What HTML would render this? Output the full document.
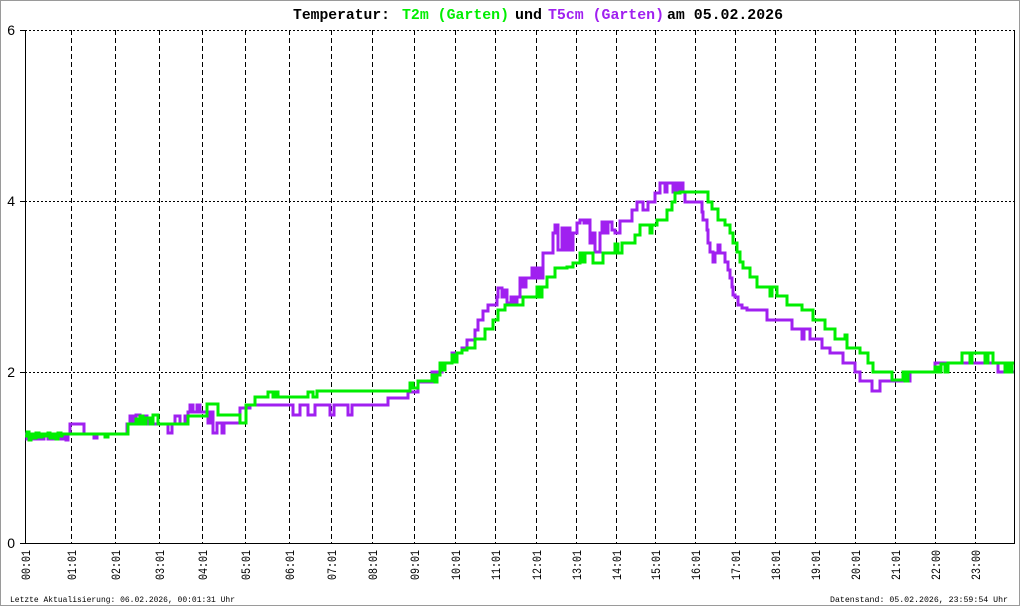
<!DOCTYPE html>
<html>
<head>
<meta charset="utf-8">
<style>
html,body{margin:0;padding:0;background:#fff;}
body{width:1020px;height:606px;overflow:hidden;}
svg{display:block;}
</style>
</head>
<body>
<svg width="1020" height="606" viewBox="0 0 1020 606" xmlns="http://www.w3.org/2000/svg">
<rect x="0.5" y="0.5" width="1019" height="605" fill="#fff" stroke="#9a9a9a" stroke-width="1"/>

<!-- Title -->
<g font-family="Liberation Mono, monospace" font-size="15" font-weight="bold">
<text x="293" y="19" fill="#000" textLength="97" lengthAdjust="spacingAndGlyphs">Temperatur:</text>
<text x="402" y="19" fill="#00ee00" textLength="107" lengthAdjust="spacingAndGlyphs">T2m (Garten)</text>
<text x="515" y="19" fill="#000" textLength="27" lengthAdjust="spacingAndGlyphs">und</text>
<text x="548" y="19" fill="#a020f0" textLength="116" lengthAdjust="spacingAndGlyphs">T5cm (Garten)</text>
<text x="667" y="19" fill="#000" textLength="116" lengthAdjust="spacingAndGlyphs">am 05.02.2026</text>
</g>

<!-- horizontal dotted gridlines -->
<g stroke="#000" stroke-width="1" stroke-dasharray="2,2" shape-rendering="crispEdges">
<line x1="25" y1="30.5" x2="1015" y2="30.5"/>
<line x1="25" y1="201.5" x2="1015" y2="201.5"/>
<line x1="25" y1="372.5" x2="1015" y2="372.5"/>
</g>

<!-- vertical dashed gridlines -->
<g stroke="#000" stroke-width="1" stroke-dasharray="5,3" shape-rendering="crispEdges">
<line x1="71.5" y1="30" x2="71.5" y2="543"/>
<line x1="115.5" y1="30" x2="115.5" y2="543"/>
<line x1="159.5" y1="30" x2="159.5" y2="543"/>
<line x1="202.5" y1="30" x2="202.5" y2="543"/>
<line x1="245.5" y1="30" x2="245.5" y2="543"/>
<line x1="289.5" y1="30" x2="289.5" y2="543"/>
<line x1="331.5" y1="30" x2="331.5" y2="543"/>
<line x1="372.5" y1="30" x2="372.5" y2="543"/>
<line x1="414.5" y1="30" x2="414.5" y2="543"/>
<line x1="455.5" y1="30" x2="455.5" y2="543"/>
<line x1="495.5" y1="30" x2="495.5" y2="543"/>
<line x1="536.5" y1="30" x2="536.5" y2="543"/>
<line x1="576.5" y1="30" x2="576.5" y2="543"/>
<line x1="616.5" y1="30" x2="616.5" y2="543"/>
<line x1="655.5" y1="30" x2="655.5" y2="543"/>
<line x1="695.5" y1="30" x2="695.5" y2="543"/>
<line x1="735.5" y1="30" x2="735.5" y2="543"/>
<line x1="775.5" y1="30" x2="775.5" y2="543"/>
<line x1="815.5" y1="30" x2="815.5" y2="543"/>
<line x1="855.5" y1="30" x2="855.5" y2="543"/>
<line x1="895.5" y1="30" x2="895.5" y2="543"/>
<line x1="935.5" y1="30" x2="935.5" y2="543"/>
<line x1="975.5" y1="30" x2="975.5" y2="543"/>
</g>

<!-- axes -->
<g stroke="#000" stroke-width="1" shape-rendering="crispEdges">
<line x1="25.5" y1="30" x2="25.5" y2="544"/>
<line x1="20" y1="543.5" x2="1015" y2="543.5"/>
<line x1="1014.5" y1="30" x2="1014.5" y2="544"/>
<line x1="20" y1="30.5" x2="25" y2="30.5"/>
<line x1="20" y1="201.5" x2="25" y2="201.5"/>
<line x1="20" y1="372.5" x2="25" y2="372.5"/>
</g>

<!-- y labels -->
<g font-family="Liberation Sans, sans-serif" font-size="14" fill="#000" text-anchor="end">
<text x="15" y="35">6</text>
<text x="15" y="206">4</text>
<text x="15" y="377">2</text>
<text x="15" y="548">0</text>
</g>

<!-- series -->
<g fill="none" stroke-width="3" stroke-linejoin="miter" shape-rendering="crispEdges">
<path stroke="#a020f0" d="M25 434 H27 V439 H35 V436 H37 V439 H44 V434 H48 V439 H52 V434 H55 V439 H58 V434 H60 V439 H64 V434 H66 V440 H68 V434 H70 V424 H84 V434 H94 V438 H97 V434 H127 V424 H130 V416 H133 V423 H136 V415 H140 V423 H143 V416 H147 V424 H168 V433 H172 V424 H175 V416 H180 V424 H185 V416 H188 V412 H190 V405 H193 V412 H197 V405 H200 V412 H208 V423 H210 V412 H213 V433 H217 V423 H222 V433 H224 V423 H240 V408 H250 V405 H293 V415 H300 V405 H308 V415 H315 V405 H330 V415 H334 V405 H348 V415 H352 V405 H388 V398 H408 V392 H418 V382 H432 V372 H442 V363 H452 V353 H462 V348 H467 V340 H475 V330 H478 V320 H483 V311 H488 V305 H497 V297 H498 V288 H502 V297 H505 V290 H507 V303 H511 V297 H514 V303 H517 V297 H520 V278 H523 V287 H526 V278 H532 V268 H535 V278 H538 V268 H541 V278 H543 V253 H553 V233 H555 V225 H558 V250 H562 V228 H565 V250 H567 V228 H570 V250 H573 V233 H577 V223 H580 V220 H584 V223 H587 V220 H590 V243 H593 V233 H595 V252 H600 V233 H602 V222 H605 V233 H608 V222 H612 V230 H615 V233 H620 V221 H632 V210 H637 V202 H643 V210 H648 V202 H655 V193 H660 V183 H665 V192 H667 V183 H673 V192 H675 V183 H678 V192 H680 V183 H683 V192 H685 V202 H702 V212 H703 V220 H707 V230 H708 V243 H710 V252 H713 V262 H715 V253 H718 V245 H720 V253 H725 V262 H728 V270 H730 V278 H732 V287 H733 V295 H735 V297 H738 V305 H742 V308 H747 V310 H767 V320 H792 V329 H802 V339 H804 V329 H810 V339 H822 V348 H830 V353 H843 V363 H855 V372 H860 V381 H872 V391 H880 V381 H910 V372 H935 V363 H998 V372 H1014"/>
<path stroke="#00ee00" d="M25 436 H27 V432 H29 V440 H31 V434 H34 V438 H36 V433 H39 V437 H42 V434 H45 V436 H48 V433 H50 V438 H53 V434 H56 V439 H58 V433 H61 V436 H62 V434 H105 V437 H108 V434 H128 V424 H136 V419 H138 V424 H140 V416 H143 V424 H146 V418 H150 V424 H153 V415 H158 V424 H188 V416 H207 V404 H218 V415 H240 V423 H246 V405 H255 V397 H268 V392 H273 V397 H275 V392 H278 V397 H308 V392 H313 V397 H317 V391 H410 V383 H413 V388 H418 V381 H432 V375 H435 V382 H437 V375 H440 V363 H442 V370 H445 V363 H452 V355 H455 V362 H457 V353 H462 V350 H467 V348 H475 V339 H485 V329 H493 V320 H498 V310 H505 V305 H523 V297 H537 V287 H539 V297 H542 V287 H547 V277 H555 V268 H567 V267 H573 V263 H580 V253 H583 V262 H585 V253 H593 V263 H603 V253 H615 V244 H618 V253 H622 V243 H635 V235 H640 V225 H650 V233 H652 V225 H657 V220 H667 V210 H672 V202 H675 V193 H680 V192 H708 V202 H712 V209 H718 V220 H725 V225 H730 V233 H733 V243 H737 V252 H740 V262 H743 V268 H750 V277 H757 V287 H770 V296 H772 V287 H777 V296 H787 V305 H802 V310 H813 V320 H825 V329 H835 V339 H845 V335 H847 V348 H860 V353 H868 V363 H873 V372 H892 V380 H903 V372 H905 V381 H908 V372 H935 V367 H938 V372 H941 V364 H945 V372 H948 V363 H962 V353 H970 V363 H972 V353 H985 V363 H988 V353 H993 V363 H1005 V372 H1007 V363 H1010 V372 H1012 V363 H1014"/>
</g>

<!-- x tick labels -->
<g font-family="Liberation Mono, monospace" font-size="13" fill="#000">
<text transform="translate(30,580) rotate(-90)" textLength="30" lengthAdjust="spacingAndGlyphs">00:01</text>
<text transform="translate(76,580) rotate(-90)" textLength="30" lengthAdjust="spacingAndGlyphs">01:01</text>
<text transform="translate(120,580) rotate(-90)" textLength="30" lengthAdjust="spacingAndGlyphs">02:01</text>
<text transform="translate(164,580) rotate(-90)" textLength="30" lengthAdjust="spacingAndGlyphs">03:01</text>
<text transform="translate(207,580) rotate(-90)" textLength="30" lengthAdjust="spacingAndGlyphs">04:01</text>
<text transform="translate(250,580) rotate(-90)" textLength="30" lengthAdjust="spacingAndGlyphs">05:01</text>
<text transform="translate(294,580) rotate(-90)" textLength="30" lengthAdjust="spacingAndGlyphs">06:01</text>
<text transform="translate(336,580) rotate(-90)" textLength="30" lengthAdjust="spacingAndGlyphs">07:01</text>
<text transform="translate(377,580) rotate(-90)" textLength="30" lengthAdjust="spacingAndGlyphs">08:01</text>
<text transform="translate(419,580) rotate(-90)" textLength="30" lengthAdjust="spacingAndGlyphs">09:01</text>
<text transform="translate(460,580) rotate(-90)" textLength="30" lengthAdjust="spacingAndGlyphs">10:01</text>
<text transform="translate(500,580) rotate(-90)" textLength="30" lengthAdjust="spacingAndGlyphs">11:01</text>
<text transform="translate(541,580) rotate(-90)" textLength="30" lengthAdjust="spacingAndGlyphs">12:01</text>
<text transform="translate(581,580) rotate(-90)" textLength="30" lengthAdjust="spacingAndGlyphs">13:01</text>
<text transform="translate(621,580) rotate(-90)" textLength="30" lengthAdjust="spacingAndGlyphs">14:01</text>
<text transform="translate(660,580) rotate(-90)" textLength="30" lengthAdjust="spacingAndGlyphs">15:01</text>
<text transform="translate(700,580) rotate(-90)" textLength="30" lengthAdjust="spacingAndGlyphs">16:01</text>
<text transform="translate(740,580) rotate(-90)" textLength="30" lengthAdjust="spacingAndGlyphs">17:01</text>
<text transform="translate(780,580) rotate(-90)" textLength="30" lengthAdjust="spacingAndGlyphs">18:01</text>
<text transform="translate(820,580) rotate(-90)" textLength="30" lengthAdjust="spacingAndGlyphs">19:01</text>
<text transform="translate(860,580) rotate(-90)" textLength="30" lengthAdjust="spacingAndGlyphs">20:01</text>
<text transform="translate(900,580) rotate(-90)" textLength="30" lengthAdjust="spacingAndGlyphs">21:01</text>
<text transform="translate(940,580) rotate(-90)" textLength="30" lengthAdjust="spacingAndGlyphs">22:00</text>
<text transform="translate(980,580) rotate(-90)" textLength="30" lengthAdjust="spacingAndGlyphs">23:00</text>
</g>

<!-- footer -->
<g font-family="Liberation Mono, monospace" font-size="8.5" fill="#000">
<text x="10" y="602" textLength="225" lengthAdjust="spacingAndGlyphs">Letzte Aktualisierung: 06.02.2026, 00:01:31 Uhr</text>
<text x="830" y="602" textLength="178" lengthAdjust="spacingAndGlyphs">Datenstand: 05.02.2026, 23:59:54 Uhr</text>
</g>
</svg>
</body>
</html>
